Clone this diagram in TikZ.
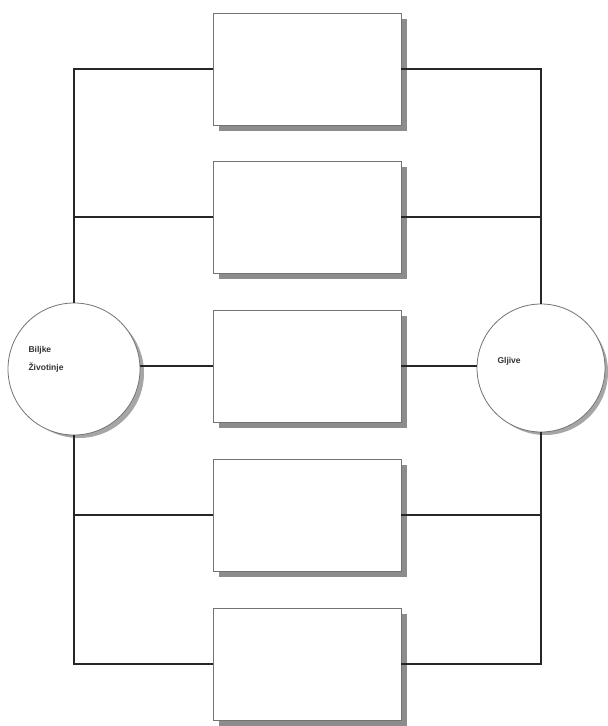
\documentclass[tikz,border=0pt]{standalone}
\usepackage{fontspec}
\setmainfont{Liberation Sans}
\begin{document}
\begin{tikzpicture}[x=1pt,y=-1pt,
  blk/.style={draw=black!55,line width=0.9pt,fill=white,minimum width=188pt,minimum height=112pt,inner sep=0pt},
  shd/.style={fill=black!45,draw=none,minimum width=188pt,minimum height=112pt,inner sep=0pt},
  circ/.style={circle,draw=black!55,line width=0.8pt,fill=white,inner sep=0pt},
  wire/.style={draw=black!85,line width=1.1pt},
  lbl/.style={font=\fontsize{8.5}{18}\selectfont\bfseries,align=left,anchor=west,text=black!80}]
\useasboundingbox (0,0) rectangle (608,726);
% shadows
\foreach \y in {69,217,366,515,664}
  \node[shd] at (313,\y+6) {};
\fill[black!35] (79,373) circle (65);
\fill[black!35] (545,372) circle (63);
\node[circ,minimum size=132pt] (L) at (74,369) {};
\node[circ,minimum size=128pt] (R) at (541,368) {};
\node[blk] (b1) at (307,69) {};
\node[blk] (b2) at (307,217) {};
\node[blk] (b3) at (307,366) {};
\node[blk] (b4) at (307,515) {};
\node[blk] (b5) at (307,664) {};
\draw[wire] (L.north) |- (b1.west);
\draw[wire] (L.north) |- (b2.west);
\draw[wire] (L.south) |- (b4.west);
\draw[wire] (L.south) |- (b5.west);
\draw[wire] (L.east |- b3.west) -- (b3.west);
\draw[wire] (b1.east) -| (R.north);
\draw[wire] (b2.east) -| (R.north);
\draw[wire] (b4.east) -| (R.south);
\draw[wire] (b5.east) -| (R.south);
\draw[wire] (b3.east) -- (R.west |- b3.east);
\node[lbl] (tL) at (25,359) {Biljke\\Životinje};
\node[lbl] (tR) at (494,361) {Gljive};
\end{tikzpicture}
\end{document}
